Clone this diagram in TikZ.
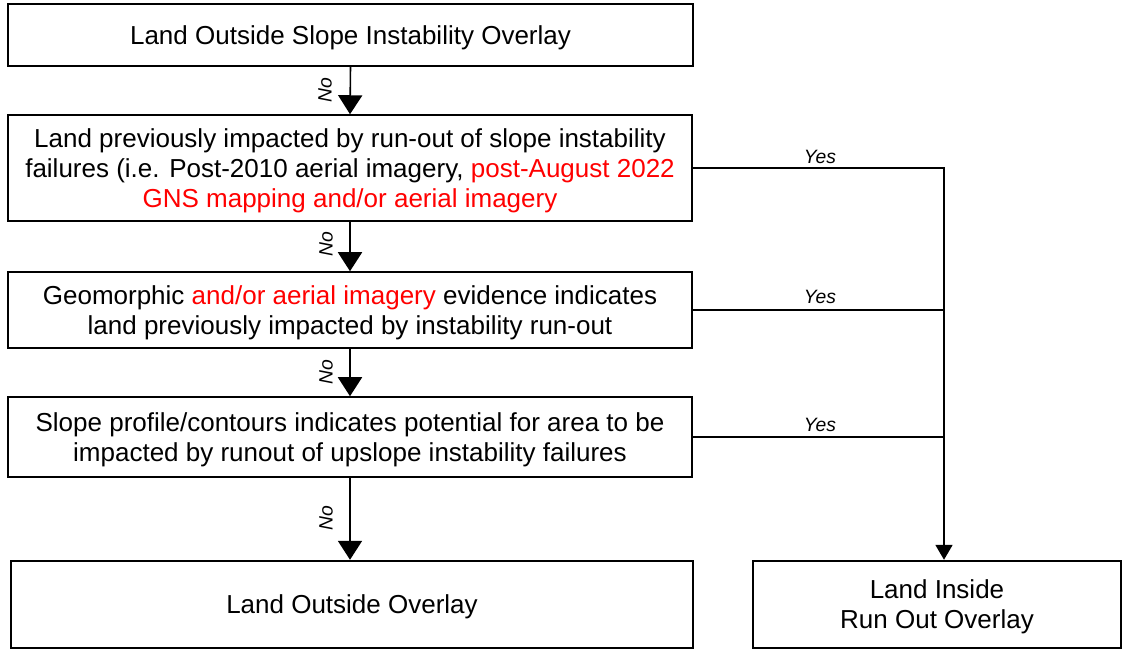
\documentclass[tikz,border=0pt]{standalone}
\usepackage{fontspec}
\setmainfont{Liberation Sans}
\usetikzlibrary{arrows.meta}

\newcommand{\hl}[1]{\textcolor{red}{#1}}

\tikzset{
  box/.style={draw, line width=0.9pt, align=center, inner sep=0pt, text depth=0pt,
    font=\fontsize{14.8}{17.1}\selectfont},
  endbox/.style={box, line width=1.4pt},
  noarrow/.style={line width=0.9pt, -{Triangle[width=13.7pt,length=10.8pt]}},
  yesarrow/.style={line width=0.9pt, -{Triangle[width=9.7pt,length=8.5pt]}},
  lbl/.style={font=\fontsize{11}{13}\selectfont\itshape, inner sep=0pt},
}

\begin{document}
\begin{tikzpicture}[x=0.02cm, y=0.02cm]
  \useasboundingbox (0,0) rectangle (1123,650);

  % decision chain
  \node[endbox, minimum width=13.7cm, minimum height=1.24cm] (start) at (350.5,615)
    {Land Outside Slope Instability Overlay};
  \node[box, minimum width=13.68cm, minimum height=2.12cm] (runout) at (350,482)
    {Land previously impacted by run-out of slope instability\\
     failures (i.e. Post-2010 aerial imagery, \hl{post-August 2022}\\
     \hl{GNS mapping and/or aerial imagery}};
  \node[box, minimum width=13.68cm, minimum height=1.52cm] (geomorph) at (350,340)
    {Geomorphic \hl{and/or aerial imagery} evidence indicates\\
     land previously impacted by instability run-out};
  \node[box, minimum width=13.68cm, minimum height=1.6cm] (profile) at (350,213)
    {Slope profile/contours indicates potential for area to be\\
     impacted by runout of upslope instability failures};

  % outcomes
  \node[endbox, minimum width=13.64cm, minimum height=1.74cm] (outside) at (352,45.5)
    {Land Outside Overlay};
  \node[endbox, minimum width=7.36cm, minimum height=1.74cm] (inside) at (937,45.5)
    {Land Inside\\Run Out Overlay};

  % No arrows
  \draw[noarrow] (start.south) -- (runout.north);
  \draw[noarrow] (runout.south) -- (geomorph.north);
  \draw[noarrow] (geomorph.south) -- (profile.north);
  \draw[noarrow] (profile.south) -- (profile.south |- outside.north);
  \node[lbl, rotate=90] (no1) at (325,560) {No};
  \node[lbl, rotate=90] (no2) at (326,406) {No};
  \node[lbl, rotate=90] (no3) at (326,278) {No};
  \node[lbl, rotate=90] (no4) at (326,132) {No};

  % Yes branch
  \coordinate (turn) at (944,482);
  \draw[yesarrow] (runout.east) -- (turn) -- (turn |- inside.north);
  \draw[line width=0.9pt] (geomorph.east) -- (geomorph.east -| turn);
  \draw[line width=0.9pt] (profile.east) -- (profile.east -| turn);
  \node[lbl] (yes1) at (820,493) {Yes};
  \node[lbl] (yes2) at (820,353) {Yes};
  \node[lbl] (yes3) at (820,225) {Yes};
\end{tikzpicture}
\end{document}
